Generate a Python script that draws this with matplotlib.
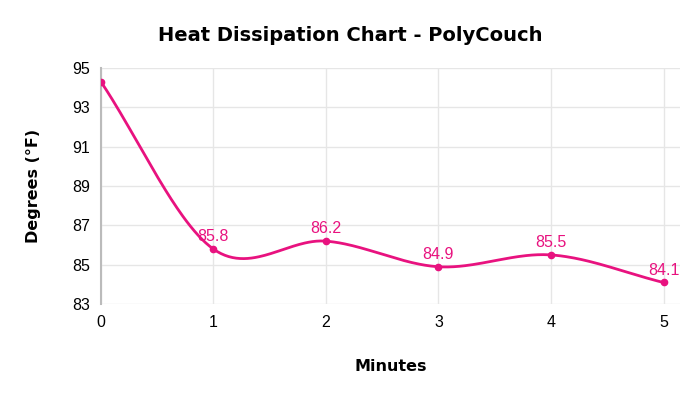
import numpy as np
import matplotlib
matplotlib.use("Agg")
import matplotlib.pyplot as plt

minutes = [0, 1, 2, 3, 4, 5]
degrees = [94.3, 85.8, 86.2, 84.9, 85.5, 84.1]
labels = ["", "85.8", "86.2", "84.9", "85.5", "84.1"]
y_ticks = [83, 85, 87, 89, 91, 93, 95]

color = "#e8127f"
num_font = "Liberation Sans"

def catmull_rom(xs, ys, n=60):
    # uniform catmull-rom, end points reflected
    p = np.column_stack([xs, ys]).astype(float)
    p = np.vstack([2 * p[0] - p[1], p, 2 * p[-1] - p[-2]])
    t = np.linspace(0, 1, n)
    out = []
    for i in range(1, len(p) - 2):
        p0, p1, p2, p3 = p[i - 1], p[i], p[i + 1], p[i + 2]
        c1 = p1 + (p2 - p0) / 6
        c2 = p2 - (p3 - p1) / 6
        b = ((1 - t) ** 3)[:, None] * p1 + (3 * (1 - t) ** 2 * t)[:, None] * c1 \
            + (3 * (1 - t) * t ** 2)[:, None] * c2 + (t ** 3)[:, None] * p2
        out.append(b)
    out = np.vstack(out)
    return out[:, 0], out[:, 1]

fig = plt.figure(figsize=(7, 3.94), dpi=100)
ax = fig.add_axes([0.144, 0.228, 0.828, 0.6])

cx, cy = catmull_rom(minutes, degrees)
ax.plot(cx, cy, color=color, lw=2, zorder=3)
ax.plot(minutes, degrees, "o", color=color, ms=4.5, zorder=4)
for x, y, s in zip(minutes, degrees, labels):
    if s:
        ax.annotate(s, (x, y), xytext=(0, 3.5), textcoords="offset points",
                    ha="center", va="bottom", color=color, fontsize=11.5,
                    family=num_font)

ax.set_xlim(0, 5.15)
ax.set_ylim(83, 95)
ax.set_xticks(minutes)
ax.set_yticks(y_ticks)
ax.grid(True, color="#e6e6e6", lw=1)
ax.set_axisbelow(True)
for side in ["top", "right", "bottom"]:
    ax.spines[side].set_visible(False)
ax.spines["left"].set_color("#bbbbbb")
ax.spines["left"].set_linewidth(1.5)
ax.tick_params(length=0, labelsize=11.5, pad=8)
for lbl in ax.get_xticklabels() + ax.get_yticklabels():
    lbl.set_family(num_font)

ax.set_xlabel("Minutes", fontsize=11.5, fontweight="bold", labelpad=21)
ax.set_ylabel("Degrees (°F)", fontsize=11.5, fontweight="bold", labelpad=22)
fig.suptitle("Heat Dissipation Chart - PolyCouch", fontsize=14, fontweight="bold", y=0.935)

fig.savefig("out.png", dpi=100)
